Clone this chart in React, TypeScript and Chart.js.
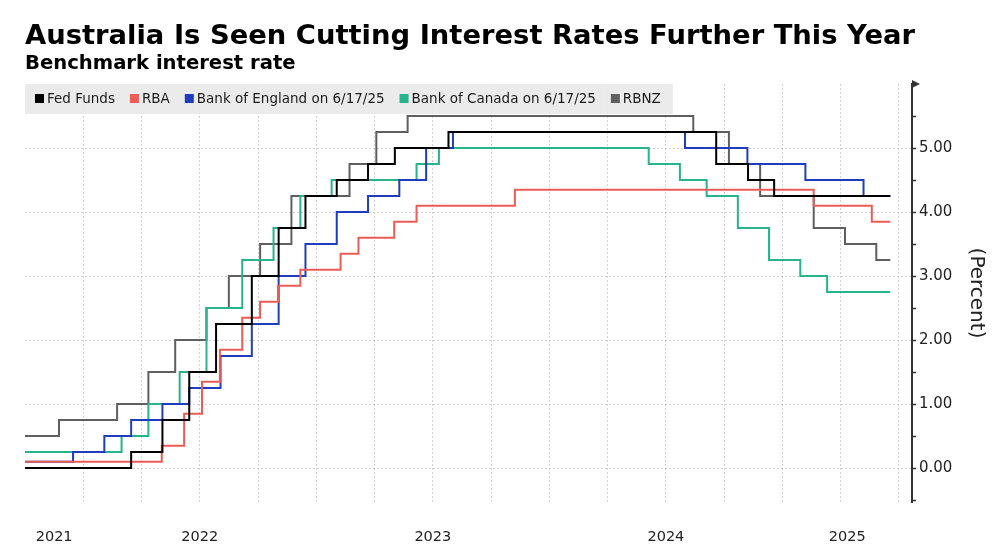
import React, { useEffect, useRef } from "react";
import { Chart, registerables } from "chart.js";
import type { ChartConfiguration, Plugin } from "chart.js";

Chart.register(...registerables);

const FONT = "'DejaVu Sans', sans-serif";

const seriesNames = [
  "Fed Funds",
  "RBA",
  "Bank of England on 6/17/25",
  "Bank of Canada on 6/17/25",
  "RBNZ",
];
const seriesColors = ["#000000", "#ec5b56", "#1f3dbd", "#27b38b", "#5f5f5f"];

// policy rate changes: date the new rate took effect, and the rate
const fedDates = ["2021-10-01", "2022-03-17", "2022-05-05", "2022-06-16", "2022-07-28", "2022-09-22", "2022-11-03", "2022-12-15", "2023-02-02", "2023-03-23", "2023-05-04", "2023-07-27", "2024-09-19", "2024-11-08", "2024-12-19", "2025-06-19"];
const fedRates = [0, 0.25, 0.75, 1.5, 2.25, 3.0, 3.75, 4.25, 4.5, 4.75, 5.0, 5.25, 4.75, 4.5, 4.25, 4.25];

const rbaDates = ["2021-10-01", "2022-05-04", "2022-06-08", "2022-07-06", "2022-08-03", "2022-09-07", "2022-10-05", "2022-11-02", "2022-12-07", "2023-02-08", "2023-03-08", "2023-05-03", "2023-06-07", "2023-11-08", "2025-02-19", "2025-05-21", "2025-06-19"];
const rbaRates = [0.1, 0.35, 0.85, 1.35, 1.85, 2.35, 2.6, 2.85, 3.1, 3.35, 3.6, 3.85, 4.1, 4.35, 4.1, 3.85, 3.85];

const boeDates = ["2021-10-01", "2021-12-16", "2022-02-03", "2022-03-17", "2022-05-05", "2022-06-16", "2022-08-04", "2022-09-22", "2022-11-03", "2022-12-15", "2023-02-02", "2023-03-23", "2023-05-11", "2023-06-22", "2023-08-03", "2024-08-01", "2024-11-07", "2025-02-06", "2025-05-08", "2025-06-19"];
const boeRates = [0.1, 0.25, 0.5, 0.75, 1.0, 1.25, 1.75, 2.25, 3.0, 3.5, 4.0, 4.25, 4.5, 5.0, 5.25, 5.0, 4.75, 4.5, 4.25, 4.25];

const bocDates = ["2021-10-01", "2022-03-02", "2022-04-13", "2022-06-01", "2022-07-13", "2022-09-07", "2022-10-26", "2022-12-07", "2023-01-25", "2023-06-07", "2023-07-12", "2024-06-05", "2024-07-24", "2024-09-04", "2024-10-23", "2024-12-11", "2025-01-29", "2025-03-12", "2025-06-19"];
const bocRates = [0.25, 0.5, 1.0, 1.5, 2.5, 3.25, 3.75, 4.25, 4.5, 4.75, 5.0, 4.75, 4.5, 4.25, 3.75, 3.25, 3.0, 2.75, 2.75];

const rbnzDates = ["2021-10-01", "2021-11-24", "2022-02-23", "2022-04-13", "2022-05-25", "2022-07-13", "2022-08-17", "2022-10-05", "2022-11-23", "2023-02-22", "2023-04-05", "2023-05-24", "2024-08-14", "2024-10-09", "2024-11-27", "2025-02-19", "2025-04-09", "2025-05-28", "2025-06-19"];
const rbnzRates = [0.5, 0.75, 1.0, 1.5, 2.0, 2.5, 3.0, 3.5, 4.25, 4.75, 5.25, 5.5, 5.25, 4.75, 4.25, 3.75, 3.5, 3.25, 3.25];

const yearLabels = ["2021", "2022", "2023", "2024", "2025"];
const rateLabels = [0, 1, 2, 3, 4, 5];

const X_MIN = 2021.75;
const X_MAX = 2025.556;
const Y_MIN = -0.53;
const Y_MAX = 6;

// "2022-03-17" -> fractional year
const toYear = (d: string) => {
  const [y, m, day] = d.split("-").map(Number);
  const start = Date.UTC(y, 0, 1);
  const end = Date.UTC(y + 1, 0, 1);
  return y + (Date.UTC(y, m - 1, day) - start) / (end - start);
};

const points = (dates: string[], rates: number[]) =>
  dates.map((d, i) => ({ x: toYear(d), y: rates[i] }));

const seriesData = [
  points(fedDates, fedRates),
  points(rbaDates, rbaRates),
  points(boeDates, boeRates),
  points(bocDates, bocRates),
  points(rbnzDates, rbnzRates),
];

// legend band inside the plot + little arrow on top of the rate axis
const overlay: Plugin = {
  id: "overlay",
  afterDraw(chart) {
    const { ctx, chartArea } = chart;
    ctx.save();
    ctx.font = `13.5px ${FONT}`;
    ctx.textBaseline = "middle";
    const widths = seriesNames.map((n) => ctx.measureText(n).width);
    let total = 10;
    widths.forEach((w) => (total += 9 + 3 + w + 15));
    ctx.fillStyle = "rgba(234,234,234,0.93)";
    ctx.fillRect(chartArea.left, chartArea.top, total - 3, 30);
    let x = chartArea.left + 10;
    const cy = chartArea.top + 15;
    seriesNames.forEach((n, i) => {
      ctx.fillStyle = seriesColors[i];
      ctx.fillRect(x, cy - 5, 9, 9);
      ctx.fillStyle = "#1a1a1a";
      ctx.fillText(n, x + 12, cy);
      x += 9 + 3 + widths[i] + 15;
    });

    const ax = chart.scales.y.left;
    ctx.fillStyle = "#333";
    ctx.beginPath();
    ctx.moveTo(ax, chartArea.top - 4);
    ctx.lineTo(ax + 8, chartArea.top);
    ctx.lineTo(ax, chartArea.top + 4);
    ctx.closePath();
    ctx.fill();
    ctx.restore();
  },
};

const App: React.FC = () => {
  const canvasRef = useRef<HTMLCanvasElement | null>(null);

  useEffect(() => {
    document.body.style.margin = "0";
    if (!canvasRef.current) return;

    Chart.defaults.font.family = FONT;

    const config: ChartConfiguration<"line"> = {
      type: "line",
      data: {
        datasets: seriesNames.map((name, i) => ({
          label: name,
          data: seriesData[i],
          borderColor: seriesColors[i],
          backgroundColor: seriesColors[i],
          borderWidth: 2,
          pointRadius: 0,
          stepped: "before",
          fill: false,
        })),
      },
      options: {
        animation: false,
        responsive: true,
        maintainAspectRatio: false,
        events: [],
        layout: { padding: { left: 25, right: 0, top: 0, bottom: 0 } },
        plugins: {
          legend: { display: false },
          tooltip: { enabled: false },
          title: {
            display: true,
            text: "Australia Is Seen Cutting Interest Rates Further This Year",
            align: "start",
            color: "#000",
            font: { size: 27.4, weight: "bold", lineHeight: 1 },
            padding: { top: 23.5, bottom: 0 },
          },
          subtitle: {
            display: true,
            text: "Benchmark interest rate",
            align: "start",
            color: "#000",
            font: { size: 19.6, weight: "bold", lineHeight: 1.2 },
            padding: { top: 1.1, bottom: 8.5 },
          },
        },
        scales: {
          x: {
            type: "linear",
            min: X_MIN,
            max: X_MAX,
            position: "bottom",
            afterBuildTicks: (scale) => {
              const t = [];
              for (let k = Math.floor(X_MIN * 4) + 1; k / 4 < X_MAX; k++) t.push({ value: k / 4 });
              scale.ticks = t;
            },
            afterFit: (scale) => {
              scale.height = 0;
            },
            ticks: { display: false, autoSkip: false },
            grid: { color: "#d2d2d2", lineWidth: 1, drawTicks: false },
            border: { display: false, dash: [2, 2] },
          },
          xl: {
            type: "linear",
            min: X_MIN,
            max: X_MAX,
            position: "bottom",
            afterBuildTicks: (scale) => {
              scale.ticks = yearLabels.map((lab) => {
                const y = Number(lab);
                const a = Math.max(X_MIN, y);
                const b = Math.min(X_MAX, y + 1);
                return { value: (a + b) / 2 };
              });
            },
            afterFit: (scale) => {
              scale.height = 43;
            },
            ticks: {
              autoSkip: false,
              maxRotation: 0,
              padding: 27,
              color: "#222",
              font: { size: 14.5 },
              callback: (_v, i) => yearLabels[i],
            },
            grid: { display: false, drawTicks: false },
            border: { display: false },
          },
          y: {
            type: "linear",
            position: "right",
            min: Y_MIN,
            max: Y_MAX,
            afterBuildTicks: (scale) => {
              const t = [];
              for (let k = Math.ceil(Y_MIN * 2); k <= Y_MAX * 2; k++) t.push({ value: k / 2 });
              scale.ticks = t;
            },
            afterFit: (scale) => {
              scale.width = 88;
            },
            ticks: {
              autoSkip: false,
              padding: 3,
              color: "#222",
              font: { size: 15 },
              callback: (v) => (rateLabels.includes(Number(v)) ? Number(v).toFixed(2) : ""),
            },
            grid: {
              color: (c) => {
                const v = c.tick ? c.tick.value : NaN;
                return rateLabels.includes(v) ? "#d2d2d2" : "rgba(0,0,0,0)";
              },
              lineWidth: 1,
              tickColor: "#333",
              tickLength: 4,
              tickWidth: 1.5,
            },
            border: { display: true, color: "#333", width: 2, dash: [2, 2] },
            title: {
              display: true,
              text: "(Percent)",
              color: "#222",
              font: { size: 20 },
              padding: { top: 12, bottom: 0 },
            },
          },
        },
      },
      plugins: [overlay],
    };

    const chart = new Chart(canvasRef.current, config);
    return () => {
      chart.destroy();
    };
  }, []);

  return (
    <div style={{ position: "relative", width: 1000, height: 545, background: "#fff" }}>
      <canvas ref={canvasRef} />
    </div>
  );
};

export default App;
